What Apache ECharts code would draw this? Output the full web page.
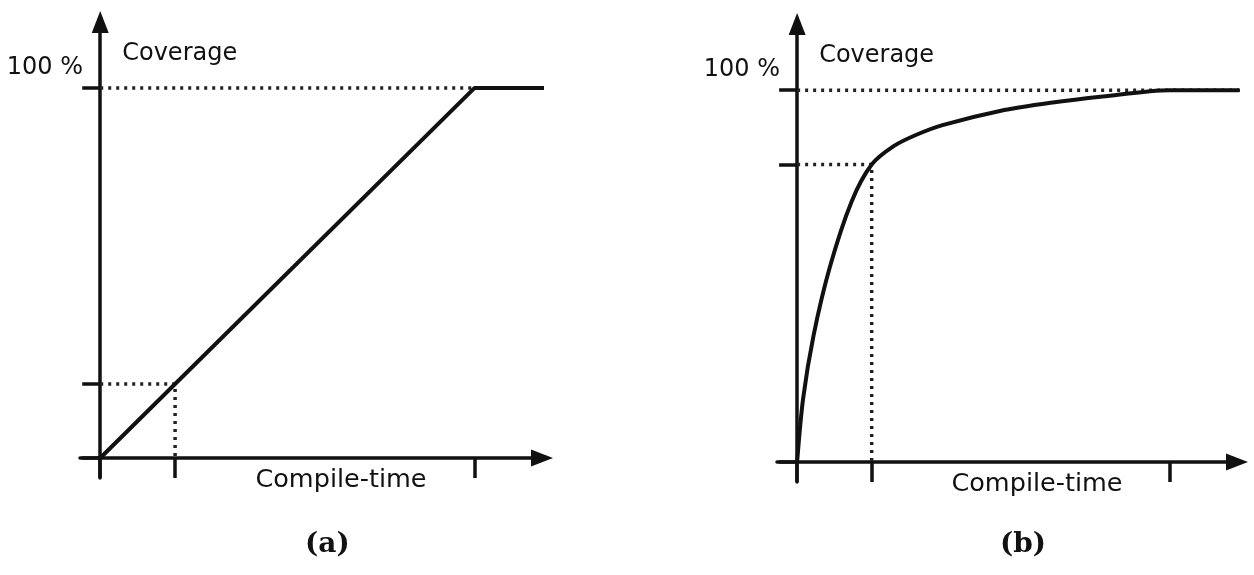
<!DOCTYPE html>
<html>
<head>
<meta charset="utf-8">
<script src="https://cdn.jsdelivr.net/npm/echarts@6/dist/echarts.min.js"></script>
<style>
html,body{margin:0;padding:0;background:#fff;}
#c{width:1254px;height:575px;}
</style>
</head>
<body>
<div id="c"></div>
<script>
// ---- data ----
const xTicks = [0, 1, 5];              // compile-time tick positions
const yTicksA = [0, 20, 100];          // coverage ticks, panel (a)
const yTicksB = [0, 80, 100];          // coverage ticks, panel (b)
const yLabel = [100];                  // labelled tick
const lineA = [[0, 0], [5, 100], [6.03, 100]];
const guideA = [[0, 20], [1, 20], [1, 0]];
const fullA = [[0, 100], [6.03, 100]];
const curveB = [[0, 0], [0.08, 17], [0.22, 34], [0.44, 52.5], [0.73, 70], [1, 80],
  [1.3, 85], [1.6, 88], [1.95, 90.6], [2.72, 94.4], [3.4, 96.6], [4.1, 98.3], [5, 100], [6.03, 100]];
const guideB = [[0, 80], [1, 80], [1, 0]];
const fullB = [[0, 100], [6.03, 100]];
const panelTitles = ['(a)', '(b)'];
const xName = 'Compile-time';
const yName = 'Coverage';

const INK = '#111';
const sans = 'DejaVu Sans';

function xAxis(gi) {
  return {
    gridIndex: gi, type: 'value', min: -0.27, max: 5.9,
    name: xName, nameLocation: 'middle', nameGap: -11,
    nameTextStyle: {color: INK, fontFamily: sans, fontSize: 25.5, verticalAlign: 'top', padding: [0, 0, 0, 60]},
    axisLine: {onZero: true, lineStyle: {color: INK, width: 3.5}, symbol: ['none', 'triangle'], symbolSize: [17, 22]},
    axisTick: {show: true, customValues: xTicks.slice(), length: 20, inside: false, lineStyle: {color: INK, width: 3.5}},
    axisLabel: {show: false},
    splitLine: {show: false}
  };
}
function yAxis(gi, ticks) {
  return {
    gridIndex: gi, type: 'value', min: -5.4, max: 117.8,
    name: yName, nameLocation: 'end', nameGap: -44,
    nameTextStyle: {color: INK, fontFamily: sans, fontSize: 24, align: 'left', verticalAlign: 'bottom', lineHeight: 24, padding: [0, 0, 0, 22]},
    axisLine: {onZero: true, lineStyle: {color: INK, width: 3.5}, symbol: ['none', 'triangle'], symbolSize: [17, 22]},
    axisTick: {show: true, customValues: ticks.slice(), length: 18, inside: false, lineStyle: {color: INK, width: 3.5}},
    axisLabel: {show: true, customValues: yLabel.slice(), formatter: v => v + ' %', margin: -3,
      color: INK, fontFamily: sans, fontSize: 24, verticalAlign: 'bottom', lineHeight: 24, padding: [0, 0, 8, 0]},
    splitLine: {show: false}
  };
}
function solid(gi, data) {
  return {type: 'line', xAxisIndex: gi, yAxisIndex: gi, data: data, symbol: 'none', clip: false,
    lineStyle: {color: INK, width: 4}, z: 5};
}
function smoothLine(gi, data) {
  return {type: 'line', xAxisIndex: gi, yAxisIndex: gi, data: data, symbol: 'none', clip: false,
    smooth: 0.3, lineStyle: {color: INK, width: 4}, z: 5};
}
function dashed(gi, data) {
  return {type: 'line', xAxisIndex: gi, yAxisIndex: gi, data: data, symbol: 'none', clip: false,
    lineStyle: {color: '#222', width: 3.5, type: [3, 5]}, z: 3};
}

const chart = echarts.init(document.getElementById('c'), null, {renderer: 'canvas'});
chart.setOption({
  backgroundColor: '#fff',
  animation: false,
  title: [
    {text: panelTitles[0], left: 300, top: 526, textStyle: {fontFamily: 'DejaVu Serif', fontWeight: 'bold', fontSize: 28, color: INK}},
    {text: panelTitles[1], left: 995, top: 526, textStyle: {fontFamily: 'DejaVu Serif', fontWeight: 'bold', fontSize: 28, color: INK}}
  ],
  grid: [
    {left: 80, right: 712, top: 22, bottom: 97, outerBoundsMode: 'none', containLabel: false},
    {left: 777, right: 17, top: 24, bottom: 93, outerBoundsMode: 'none', containLabel: false}
  ],
  xAxis: [xAxis(0), xAxis(1)],
  yAxis: [yAxis(0, yTicksA), yAxis(1, yTicksB)],
  series: [
    dashed(0, fullA), dashed(0, guideA), solid(0, lineA),
    dashed(1, fullB), dashed(1, guideB), smoothLine(1, curveB)
  ]
});
</script>
</body>
</html>
